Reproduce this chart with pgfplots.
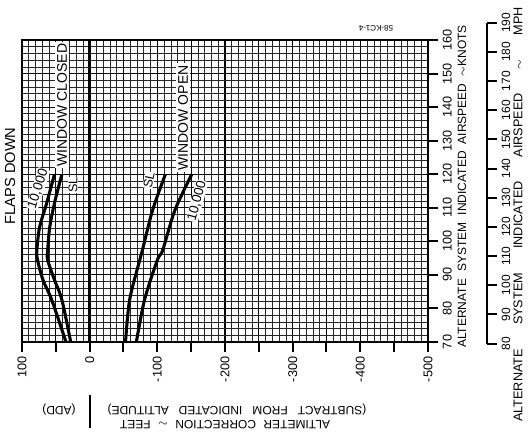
\documentclass[border=0pt]{standalone}
\usepackage{pgfplots}
\pgfplotsset{compat=1.18}
\usepackage{fontspec}
\setmainfont{Liberation Sans}
\begin{document}
\begin{tikzpicture}[x=0.75pt,y=0.75pt]
\path[use as bounding box] (0,0) rectangle (528,434);
\begin{axis}[
  at={(16.5pt,69pt)}, anchor=south west, scale only axis,
  width=304.5pt, height=226.5pt,
  xmin=-100, xmax=500, ymin=70, ymax=160,
  xtick={-100,-50,...,500},
  xticklabels={100,,0,,-100,,-200,,-300,,-400,,-500},
  ytick={70,80,...,160},
  yticklabels={70,80,90,100,110,120,130,140,150,160},
  minor x tick num=4, minor y tick num=4,
  grid=both,
  major grid style={black, line width=0.9pt},
  minor grid style={black!85, line width=0.5pt},
  xtick pos=bottom, ytick pos=right,
  tick align=outside,
  major tick length=7.5pt, minor tick length=0pt,
  tick style={black, line width=1.5pt},
  axis line style={line width=1.5pt},
  xticklabel style={rotate=90, anchor=east, font=\fontsize{9.5}{10}\selectfont},
  yticklabel style={rotate=90, anchor=north, font=\fontsize{9.5}{10}\selectfont},
]
\addplot[line width=2pt] coordinates {(0,70) (0,160)};
% window closed, 10,000 ft (x = amount to subtract; negative = add)
\addplot[line width=2.3pt, smooth] coordinates {
  (-35,70) (-56,82.5) (-69,88.5) (-77,94.4) (-78,97.4) (-74,104.2) (-63.5,111.4) (-52,120)};
% window closed, SL
\addplot[line width=2.3pt, smooth] coordinates {
  (-28,70) (-41,82.5) (-52,88.5) (-62,94.4) (-62,97.4) (-59,104.2) (-52,111.4) (-41,120)};
% window open, SL
\addplot[line width=2.3pt, smooth] coordinates {
  (53,70) (59,82.5) (74,94.4) (78,97.4) (93,109.3) (112,120)};
% window open, 10,000 ft
\addplot[line width=2.3pt, smooth] coordinates {
  (69,70) (81,82.5) (100,94.4) (108,97.4) (126,109.3) (151,120)};
\end{axis}
% MPH scale
\begin{axis}[
  at={(365.25pt,67.8pt)}, anchor=south east, scale only axis,
  width=1pt, height=240.6pt,
  xmin=0, xmax=1, ymin=80, ymax=190,
  hide x axis, axis y line*=right,
  ytick={80,90,...,190},
  yticklabels={80,90,100,110,120,130,140,150,160,170,180,190},
  tick align=outside, major tick length=7.5pt,
  tick style={black, line width=1.5pt},
  axis line style={line width=1.5pt},
  yticklabel style={rotate=90, anchor=north, font=\fontsize{9}{10}\selectfont},
]
\end{axis}
% labels
\node[rotate=90, font=\fontsize{11}{12}\selectfont] at (10,258) {FLAPS DOWN};
\node[rotate=90, fill=white, inner sep=1.5pt, font=\fontsize{10.5}{11}\selectfont] at (62,329) {WINDOW CLOSED};
\node[rotate=90, fill=white, inner sep=1.5pt, font=\fontsize{10.5}{11}\selectfont] at (183,316) {WINDOW OPEN};
\node[rotate=72, fill=white, inner sep=0.5pt, font=\fontsize{10}{10}\selectfont] at (38,245) {10,000};
\node[rotate=90, fill=white, inner sep=0.5pt, font=\fontsize{9.5}{10}\selectfont] at (73,249) {SL};
\node[rotate=78, fill=white, inner sep=0.5pt, font=\fontsize{9.5}{10}\selectfont] at (149,254) {SL};
\node[rotate=75, fill=white, inner sep=0.5pt, font=\fontsize{10}{10}\selectfont] at (197,233) {10,000};
\node[rotate=180, font=\fontsize{6}{6}\selectfont] at (376,406) {58-KC1-4};
\node[rotate=180, font=\fontsize{9}{10}\selectfont] at (59,24) {(ADD)};
\draw[line width=1.5pt] (90,39) -- (90,6);
\node[rotate=180, font=\fontsize{9}{10}\selectfont, inner sep=0pt] at (237,24) {\makebox[194pt][s]{(SUBTRACT FROM INDICATED ALTITUDE)}};
\node[rotate=180, font=\fontsize{9}{10}\selectfont, inner sep=0pt] at (225,9) {\makebox[157.5pt][s]{ALTIMETER CORRECTION $\sim$ FEET}};
\node[rotate=90, font=\fontsize{9}{10}\selectfont, inner sep=0pt] at (462,247.5) {\makebox[242pt][s]{ALTERNATE SYSTEM INDICATED AIRSPEED $\sim$KNOTS}};
\node[rotate=90, font=\fontsize{9.5}{10}\selectfont, inner sep=0pt] at (518,219.5) {\makebox[311pt][s]{ALTERNATE SYSTEM INDICATED AIRSPEED $\sim$ MPH}};
\end{tikzpicture}
\end{document}
